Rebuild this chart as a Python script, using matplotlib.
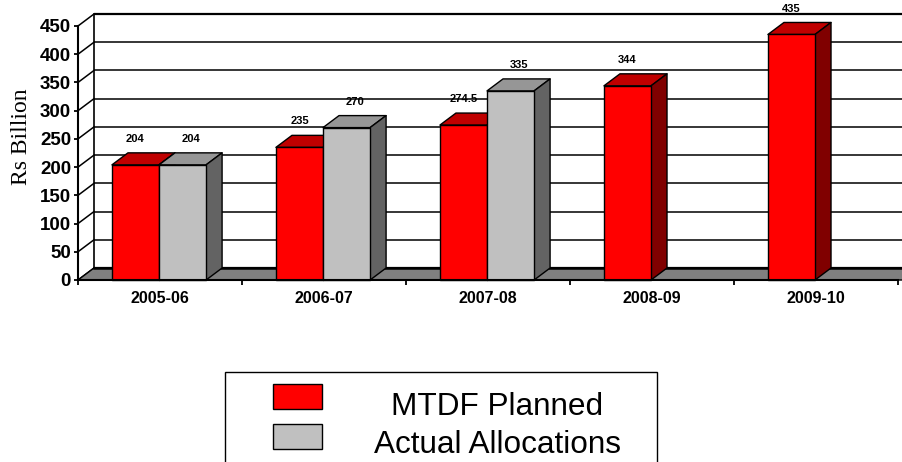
import matplotlib
matplotlib.use("Agg")
import matplotlib.pyplot as plt
from matplotlib.patches import Polygon, Rectangle

# ---------------- data ----------------
categories = ["2005-06", "2006-07", "2007-08", "2008-09", "2009-10"]
mtdf_planned = [204, 235, 274.5, 344, 435]
actual_allocations = [204, 270, 335, None, None]
planned_labels = ["204", "235", "274.5", "344", "435"]
actual_labels = ["204", "270", "335", None, None]
series_names = ["MTDF Planned", "Actual Allocations"]
yticks = [0, 50, 100, 150, 200, 250, 300, 350, 400, 450]
y_label = "Rs Billion"

# ---------------- styles ----------------
W, H = 902, 462
SANS = "Liberation Sans"
SERIF = "Liberation Serif"
red_faces = ("#FF0000", "#C00000", "#800000")    # front, top, side
gray_faces = ("#C0C0C0", "#969696", "#636363")
floor_color = "#808080"
DEPTH_X_PX, DEPTH_Y_PX = 16, 12
BAR_W = 0.287
BAR_START = 0.207
LW = 1.0

fig = plt.figure(figsize=(W / 100, H / 100), dpi=100)
fig.patch.set_facecolor("white")
ax = fig.add_axes([78 / W, (H - 280) / H, 820 / W, 254 / H])
ncat = len(categories)
ymax = yticks[-1]
ax.set_xlim(0, ncat)
ax.set_ylim(0, ymax)
ax.patch.set_visible(False)

# depth in data units
dxd = DEPTH_X_PX / (ax.bbox.width / ncat)
dyd = DEPTH_Y_PX / (ax.bbox.height / ymax)

# ---------------- walls and floor ----------------
for t in yticks:
    lw = 1.6 if t in (yticks[0], yticks[-1]) else 1.1
    ax.plot([dxd, ncat + dxd + 1], [t + dyd, t + dyd], color="black", lw=lw,
            clip_on=False, zorder=0.5, solid_capstyle="butt")
    ax.plot([0, dxd], [t, t + dyd], color="black", lw=1.1, clip_on=False, zorder=0.5)
ax.plot([dxd, dxd], [dyd, ymax + dyd], color="black", lw=1.2, clip_on=False, zorder=0.5)

floor = Polygon([(0, 0), (ncat + 1, 0), (ncat + 1 + dxd, dyd), (dxd, dyd)],
                closed=True, facecolor=floor_color, edgecolor="black", lw=LW,
                clip_on=False, zorder=0.6)
ax.add_patch(floor)
ax.plot([dxd, ncat + dxd + 1], [dyd, dyd], color="black", lw=1.8, clip_on=False, zorder=0.7)


# ---------------- 3D bars ----------------
def bar3d(x, v, faces):
    front, top, side = faces
    ax.add_patch(Polygon([(x, v), (x + BAR_W, v), (x + BAR_W + dxd, v + dyd), (x + dxd, v + dyd)],
                         closed=True, facecolor=top, edgecolor="black", lw=LW,
                         clip_on=False, zorder=2, joinstyle="round"))
    ax.add_patch(Polygon([(x + BAR_W, 0), (x + BAR_W + dxd, dyd), (x + BAR_W + dxd, v + dyd), (x + BAR_W, v)],
                         closed=True, facecolor=side, edgecolor="black", lw=LW,
                         clip_on=False, zorder=2, joinstyle="round"))
    ax.add_patch(Rectangle((x, 0), BAR_W, v, facecolor=front, edgecolor="black", lw=LW,
                           clip_on=False, zorder=2, joinstyle="round"))


label_kw = dict(textcoords="offset points", ha="center", va="center",
                fontsize=8, fontweight="bold", family=SANS, zorder=5,
                annotation_clip=False)
for i in range(ncat):
    xr = i + BAR_START
    bar3d(xr, mtdf_planned[i], red_faces)
    ax.annotate(planned_labels[i], xy=(xr + BAR_W / 2, mtdf_planned[i] + dyd),
                xytext=(0, 10), **label_kw)
    if actual_allocations[i] is not None:
        xg = xr + BAR_W
        bar3d(xg, actual_allocations[i], gray_faces)
        ax.annotate(actual_labels[i], xy=(xg + BAR_W / 2, actual_allocations[i] + dyd),
                    xytext=(5.8, 10), **label_kw)

# ---------------- axes ----------------
for s in ("top", "right"):
    ax.spines[s].set_visible(False)
ax.spines["left"].set_linewidth(1.5)
ax.spines["bottom"].set_linewidth(1.5)
ax.spines["bottom"].set_bounds(0, ncat)
ax.spines["left"].set_zorder(3)
ax.spines["bottom"].set_zorder(3)

ax.set_yticks(yticks)
ax.set_yticklabels([str(t) for t in yticks], fontsize=13.5, fontweight="bold", family=SANS)
ax.tick_params(axis="y", length=3, width=1.3, pad=2, direction="out")

ax.set_xticks(range(ncat + 1))
ax.set_xticklabels([])
ax.tick_params(axis="x", which="major", length=3.5, width=1.3, direction="out")
ax.set_xticks([i + 0.5 for i in range(ncat)], minor=True)
ax.set_xticklabels(categories, minor=True, fontsize=11.5, fontweight="bold", family=SANS)
ax.tick_params(axis="x", which="minor", length=0, pad=8)

fig.text(22 / W, 1 - 136.5 / H, y_label, rotation=90, ha="center", va="center",
         fontsize=17, family=SERIF)

# ---------------- legend ----------------
fig.patches.append(Rectangle((225 / W, -0.1), (657 - 225) / W, (H - 372) / H + 0.1,
                             transform=fig.transFigure, facecolor="white",
                             edgecolor="black", lw=1.0, zorder=1))
legend_colors = [red_faces[0], gray_faces[0]]
sw_top = [384, 424]
baselines = [415, 453]
for name, col, top, base in zip(series_names, legend_colors, sw_top, baselines):
    fig.patches.append(Rectangle((273 / W, 1 - (top + 25) / H), 49 / W, 25 / H,
                                 transform=fig.transFigure, facecolor=col,
                                 edgecolor="black", lw=1.0, zorder=2))
    fig.text(497 / W, 1 - base / H, name, ha="center", va="baseline",
             fontsize=22.7, family=SANS, zorder=3)

fig.savefig("out.png", dpi=100, facecolor="white")
